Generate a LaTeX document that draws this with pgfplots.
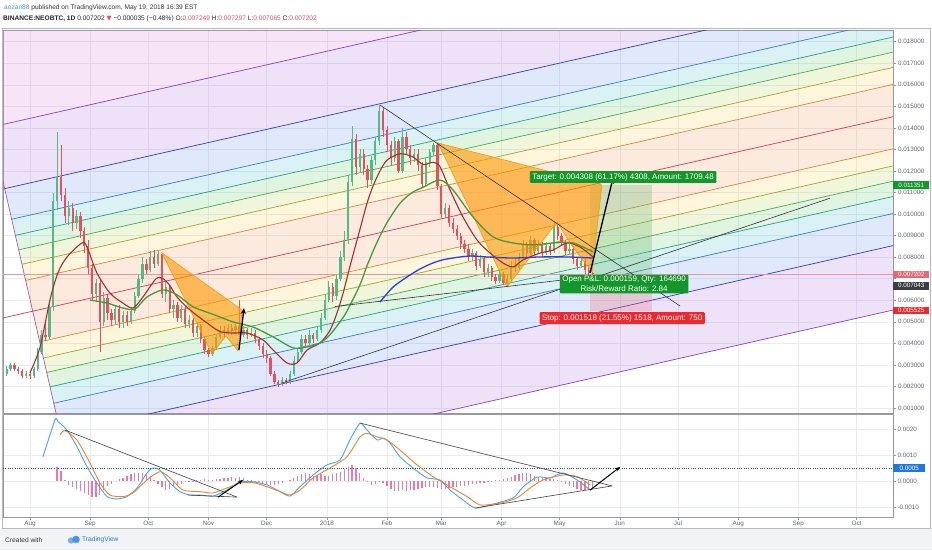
\documentclass[border=0pt]{standalone}
\usepackage{fontspec}
\setmainfont{Liberation Sans}
\newfontfamily\djv{DejaVu Sans}
\usepackage{pgfplots}
\usepackage{pgfplotstable}
\pgfplotsset{compat=1.18}
\usetikzlibrary{arrows.meta}

\definecolor{bgout}{RGB}{241,243,246}
\definecolor{gridc}{RGB}{232,235,240}
\definecolor{axc}{RGB}{150,154,160}
\definecolor{lblc}{RGB}{95,100,110}
\definecolor{upc}{RGB}{83,185,135}
\definecolor{dnc}{RGB}{235,77,92}
\definecolor{mared}{RGB}{165,45,50}
\definecolor{magreen}{RGB}{70,155,60}
\definecolor{mablue}{RGB}{50,60,220}
\definecolor{pf0}{RGB}{210,60,90}
\definecolor{pf25}{RGB}{210,140,60}
\definecolor{pf38}{RGB}{165,165,45}
\definecolor{pf50}{RGB}{80,170,80}
\definecolor{pf61}{RGB}{40,160,140}
\definecolor{pf75}{RGB}{55,125,200}
\definecolor{pf100}{RGB}{55,60,180}
\definecolor{pf150}{RGB}{135,65,200}
\definecolor{pfL}{RGB}{170,90,170}
\definecolor{fTop}{RGB}{215,120,215}
\definecolor{fLav}{RGB}{170,110,225}
\definecolor{fBlue}{RGB}{100,140,235}
\definecolor{fCyan}{RGB}{70,190,200}
\definecolor{fMint}{RGB}{100,200,110}
\definecolor{fYG}{RGB}{180,210,80}
\definecolor{fYel}{RGB}{245,205,80}
\definecolor{fPeach}{RGB}{245,150,90}
\definecolor{harm}{RGB}{255,152,0}
\definecolor{tvgreen}{RGB}{19,151,42}
\definecolor{tvred}{RGB}{240,40,45}
\definecolor{tvpink}{RGB}{228,105,115}
\definecolor{tvdark}{RGB}{60,62,66}
\definecolor{tvblue}{RGB}{33,120,220}
\definecolor{macdc}{RGB}{66,165,245}
\definecolor{sigc}{RGB}{245,130,40}
\definecolor{histc}{RGB}{238,120,165}
\definecolor{lastc}{RGB}{232,150,160}
\definecolor{dotc}{RGB}{30,70,200}

\pgfplotstableread{
d o h l c
-12 2.6 2.95 2.5 2.8
-10 2.8 3.1 2.7 3.0
-2 2.5 2.7 2.4 2.6
2 2.5 2.9 2.4 2.8
4 2.8 3.8 2.7 3.6
6 3.6 4.6 3.5 4.4
10 4.3 5.9 4.2 5.7
12 5.7 11.0 5.5 10.6
14 10.6 13.8 10.2 11.7
20 9.9 10.6 9.5 10.3
24 9.6 10.2 9.3 9.9
34 6.3 7.0 5.9 6.8
38 5.0 6.4 4.8 6.1
44 5.1 5.8 4.9 5.6
48 5.0 5.5 4.7 5.3
52 5.0 5.7 4.9 5.5
54 5.5 6.4 5.4 6.2
56 6.2 7.2 6.1 7.0
58 7.0 8.0 6.8 7.7
62 7.4 8.3 7.3 8.0
66 7.7 8.3 7.6 8.15
70 6.3 6.9 5.9 6.6
74 5.6 6.0 5.2 5.8
78 5.2 5.8 5.0 5.6
82 4.9 5.3 4.7 5.1
86 4.5 5.0 4.3 4.8
94 3.5 3.9 3.4 3.8
96 3.8 4.4 3.7 4.3
98 4.3 4.8 4.2 4.6
102 4.5 4.9 4.4 4.7
106 4.6 5.0 4.5 4.8
110 4.4 4.8 4.3 4.6
114 4.4 4.7 4.3 4.5
130 2.1 2.45 2.0 2.3
134 2.2 2.7 2.1 2.6
136 2.6 3.4 2.5 3.2
138 3.2 3.8 3.1 3.6
140 3.6 4.4 3.5 4.2
144 4.0 4.6 3.9 4.4
148 4.2 4.8 4.1 4.6
150 4.6 5.4 4.5 5.2
152 5.2 6.3 5.1 6.0
154 6.0 6.9 5.9 6.6
158 6.2 7.2 6.0 7.0
160 7.0 8.3 6.9 8.0
162 8.0 9.2 7.8 8.8
164 8.8 11.8 8.6 11.5
166 11.5 14.1 11.3 13.5
170 12.2 13.0 11.9 12.8
176 11.6 12.7 11.4 12.5
178 12.5 13.6 12.3 13.4
180 13.4 15.06 13.2 14.8
188 12.6 13.6 12.4 13.4
192 12.0 14.0 11.9 13.6
198 12.6 13.0 12.4 12.8
204 11.4 12.6 11.3 12.4
206 12.4 13.0 12.2 12.9
208 12.9 13.3 12.7 13.2
214 10.0 10.5 9.8 10.3
228 8.0 8.4 7.8 8.2
232 7.6 8.1 7.5 7.9
236 7.3 7.7 7.1 7.5
242 6.9 7.4 6.8 7.2
246 6.8 7.2 6.65 7.0
248 7.0 7.8 6.9 7.6
252 7.5 8.2 7.4 8.0
254 8.0 8.8 7.9 8.6
258 8.2 9.0 8.1 8.8
262 8.3 8.8 8.2 8.6
266 8.2 8.7 8.1 8.5
270 8.3 9.6 8.2 9.4
278 8.3 8.6 8.1 8.4
284 7.6 8.0 7.5 7.8
}\upc

\pgfplotstableread{
d o h l c
-8 3.0 3.1 2.7 2.8
-6 2.8 2.9 2.6 2.7
-4 2.7 2.8 2.4 2.5
0 2.6 2.7 2.35 2.5
8 4.4 5.0 4.1 4.3
16 11.7 13.2 10.6 10.9
18 10.9 11.2 9.6 9.9
22 10.3 10.5 9.2 9.6
26 9.9 10.1 8.9 9.2
28 9.2 9.4 8.2 8.5
30 8.5 8.8 7.2 7.5
32 7.5 7.7 6.0 6.3
36 6.8 7.0 3.6 5.0
40 6.1 6.3 5.1 5.4
42 5.4 5.6 4.8 5.1
46 5.6 5.8 4.7 5.0
50 5.3 5.5 4.8 5.0
60 7.7 7.9 7.2 7.4
64 8.0 8.35 7.5 7.7
68 8.15 8.2 6.1 6.3
72 6.6 6.7 5.4 5.6
76 5.8 5.9 5.0 5.2
80 5.6 5.7 4.7 4.9
84 5.1 5.2 4.3 4.5
88 4.8 4.9 4.0 4.2
90 4.2 4.3 3.5 3.7
92 3.7 3.8 3.35 3.5
100 4.6 4.8 4.3 4.5
104 4.7 4.9 4.4 4.6
108 4.8 6.0 4.3 4.4
112 4.6 4.7 4.2 4.4
116 4.5 4.6 4.0 4.2
118 4.2 4.3 3.7 3.9
120 3.9 4.0 3.3 3.5
122 3.5 3.7 3.1 3.3
124 3.3 3.4 2.5 2.6
126 2.6 2.7 2.1 2.2
128 2.2 2.3 1.98 2.1
132 2.3 2.4 2.1 2.2
142 4.2 4.4 3.8 4.0
146 4.4 4.5 4.0 4.2
156 6.6 6.8 5.9 6.2
168 13.5 13.7 11.8 12.2
172 12.8 13.0 11.8 12.1
174 12.1 12.3 11.2 11.6
182 14.8 14.9 13.6 13.9
184 13.9 14.1 12.9 13.2
186 13.2 13.4 12.3 12.6
190 13.4 13.5 11.9 12.0
194 13.6 13.8 12.8 13.0
196 13.0 13.2 12.3 12.6
200 12.8 13.0 12.0 12.3
202 12.3 12.4 11.2 11.4
210 13.2 13.3 11.1 11.3
212 11.3 11.4 9.8 10.0
216 10.3 10.4 9.4 9.6
218 9.6 9.8 9.1 9.3
220 9.3 9.5 8.8 9.0
222 9.0 9.1 8.4 8.6
224 8.6 8.8 8.2 8.4
226 8.4 8.6 7.8 8.0
230 8.2 8.3 7.4 7.6
234 7.9 8.0 7.1 7.3
238 7.5 7.6 6.9 7.1
240 7.1 7.2 6.75 6.9
244 7.2 7.3 6.7 6.8
250 7.6 7.9 7.3 7.5
256 8.6 8.7 8.0 8.2
260 8.8 8.9 8.1 8.3
264 8.6 8.7 8.0 8.2
268 8.5 8.6 8.1 8.3
272 9.4 9.5 8.8 9.0
274 9.0 9.1 8.5 8.7
276 8.7 8.8 8.1 8.3
280 8.4 8.5 7.7 7.9
282 7.9 8.0 7.4 7.6
286 7.8 7.9 7.2 7.4
288 7.4 7.5 7.07 7.249
290 7.249 7.297 7.065 7.202
}\dnc

\pgfplotstableread{
d h
14 0.55
16 0.40
18 0.05
20 -0.15
22 -0.25
24 -0.32
26 -0.40
28 -0.45
30 -0.55
32 -0.62
34 -0.60
36 -0.55
38 -0.35
40 -0.20
42 -0.10
44 0.00
46 0.08
48 0.12
50 0.18
52 0.25
54 0.30
56 0.32
58 0.30
60 0.25
62 0.18
64 0.05
66 -0.10
68 -0.25
70 -0.35
72 -0.32
74 -0.25
76 -0.18
78 -0.10
80 -0.05
82 -0.03
84 -0.02
86 0.02
88 0.05
90 0.06
92 0.05
94 0.04
96 0.06
98 0.08
100 0.10
102 0.12
104 0.14
106 0.13
108 0.15
110 0.10
112 0.05
114 0.02
116 -0.02
118 -0.05
120 -0.10
122 -0.12
124 -0.15
126 -0.15
128 -0.12
130 -0.06
132 0.00
134 0.05
136 0.10
138 0.18
140 0.25
142 0.30
144 0.25
146 0.20
148 0.22
150 0.25
152 0.20
154 0.18
156 0.25
158 0.30
160 0.35
162 0.45
164 0.55
166 0.60
168 0.50
170 0.30
172 0.10
174 -0.05
176 -0.15
178 -0.10
180 -0.05
182 -0.08
184 -0.20
186 -0.30
188 -0.38
190 -0.40
192 -0.35
194 -0.38
196 -0.35
198 -0.33
200 -0.30
202 -0.28
204 -0.25
206 -0.22
208 -0.25
210 -0.28
212 -0.30
214 -0.32
216 -0.28
218 -0.25
220 -0.22
222 -0.20
224 -0.18
226 -0.15
228 -0.12
230 -0.10
232 -0.08
234 -0.06
236 -0.04
238 -0.02
240 0.02
242 0.05
244 0.08
246 0.10
248 0.15
250 0.22
252 0.28
254 0.32
256 0.30
258 0.25
260 0.20
262 0.15
264 0.12
266 0.10
268 0.06
270 0.08
272 0.05
274 -0.02
276 -0.10
278 -0.18
280 -0.25
282 -0.30
284 -0.33
286 -0.35
288 -0.32
290 -0.28
}\histo

\pgfplotsset{clip bounding box=upper bound}

\begin{document}
\begin{tikzpicture}[x=1pt,y=1pt]
\fill[white] (0,0) rectangle (932,550);
\fill[bgout] (0,0) rectangle (932,22);
\draw[axc!70, line width=0.6pt] (2,22) rectangle (930,522);

% header
\node[anchor=west, inner sep=0pt, font=\fontsize{6.6}{8}\selectfont, text=black!80] at (4,542)
  {{\color{tvblue!80}aozan88} published on TradingView.com, May 19, 2018 16:39 EST};
\node[anchor=west, inner sep=0pt, font=\fontsize{6.6}{8}\selectfont, text=black!85] at (3,531)
  {\textbf{BINANCE:NEOBTC, 1D} 0.007202 {\djv\color{dnc}▼} −0.000035 (−0.48\%) O:{\color{dnc}0.007249} H:{\color{dnc}0.007297} L:{\color{dnc}0.007065} C:{\color{dnc}0.007202}};
% footer
\node[anchor=west, inner sep=0pt, font=\fontsize{6.6}{8}\selectfont, text=black!80] at (5,10) {Created with};
\fill[tvblue!60] (71,9.5) circle (3.2);
\fill[tvblue!80] (76,10.5) circle (3.8);
\fill[tvblue!60] (70,7) rectangle (79,8.5);
\node[anchor=west, inner sep=0pt, font=\fontsize{6.6}{8}\selectfont, text=tvblue] at (82,10) {TradingView};

% ===== main panel =====
\begin{axis}[
  at={(3pt,137pt)}, anchor=south west,
  width=890pt, height=383pt, scale only axis,
  xmin=-13.9, xmax=444.8, ymin=0.768, ymax=18.543,
  axis line style={draw=axc, line width=0.6pt},
  xtick={0,31,61,92,122,153,184,212,243,273,304,334,365,396,426},
  xticklabels={}, xtick style={draw=none},
  ytick={1,2,3,4,5,6,7,8,9,10,11,12,13,14,15,16,17,18},
  yticklabels={0.001000,0.002000,0.003000,0.004000,0.005000,0.006000,,0.008000,0.009000,0.010000,0.011000,0.012000,0.013000,0.014000,0.015000,0.016000,0.017000,0.018000},
  ytick pos=right, yticklabel pos=right,
  tick align=outside, major tick length=3pt,
  ytick style={draw=axc, line width=0.5pt},
  yticklabel style={font=\fontsize{6.3}{7}\selectfont, text=lblc, xshift=-1.5pt},
  grid=major, grid style={draw=gridc, line width=0.5pt},
  clip=true,
]
% pitchfork fills
\addplot[fill=fTop, fill opacity=0.2, draw=none] coordinates {(-20.3,14.03) (445,23.50) (445,30) (-60.9,30)} -- cycle;
\addplot[fill=fLav, fill opacity=0.2, draw=none] coordinates {(-20.3,14.03) (445,23.50) (445,20.51) (-13.06,11.18)} -- cycle;
\addplot[fill=fBlue, fill opacity=0.2, draw=none] coordinates {(-13.06,11.18) (445,20.51) (445,19.01) (-9.45,9.76)} -- cycle;
\addplot[fill=fCyan, fill opacity=0.2, draw=none] coordinates {(-9.45,9.76) (445,19.01) (445,18.22) (-7.54,9.01)} -- cycle;
\addplot[fill=fMint, fill opacity=0.2, draw=none] coordinates {(-7.54,9.01) (445,18.22) (445,17.52) (-5.83,8.34)} -- cycle;
\addplot[fill=fYG, fill opacity=0.2, draw=none] coordinates {(-5.83,8.34) (445,17.52) (445,16.81) (-4.13,7.67)} -- cycle;
\addplot[fill=fYel, fill opacity=0.2, draw=none] coordinates {(-4.13,7.67) (445,16.81) (445,16.02) (-2.22,6.92)} -- cycle;
\addplot[fill=fPeach, fill opacity=0.2, draw=none] coordinates {(-2.22,6.92) (445,16.02) (445,14.52) (1.40,5.49)} -- cycle;
\addplot[fill=fPeach, fill opacity=0.2, draw=none] coordinates {(1.40,5.49) (445,14.52) (445,13.03) (5.02,4.07)} -- cycle;
\addplot[fill=fYel, fill opacity=0.2, draw=none] coordinates {(5.02,4.07) (445,13.03) (445,12.24) (6.92,3.32)} -- cycle;
\addplot[fill=fYG, fill opacity=0.2, draw=none] coordinates {(6.92,3.32) (445,12.24) (445,11.53) (8.63,2.65)} -- cycle;
\addplot[fill=fMint, fill opacity=0.2, draw=none] coordinates {(8.63,2.65) (445,11.53) (445,10.82) (10.34,1.98)} -- cycle;
\addplot[fill=fCyan, fill opacity=0.2, draw=none] coordinates {(10.34,1.98) (445,10.82) (445,10.03) (12.25,1.22)} -- cycle;
\addplot[fill=fBlue, fill opacity=0.2, draw=none] coordinates {(12.25,1.22) (445,10.03) (445,8.54) (15.86,-0.20)} -- cycle;
\addplot[fill=fLav, fill opacity=0.2, draw=none] coordinates {(15.86,-0.20) (445,8.54) (445,5.55) (23.09,-3.05)} -- cycle;
% pitchfork lines
\addplot[draw=pfL, line width=0.7pt] coordinates {(-35,19.82) (16,-0.25)};
\addplot[draw=pf150, line width=0.7pt] coordinates {(-20.3,14.03) (445,23.50)};
\addplot[draw=pf100, line width=0.7pt] coordinates {(-13.06,11.18) (445,20.51)};
\addplot[draw=pf75, line width=0.7pt] coordinates {(-9.45,9.76) (445,19.01)};
\addplot[draw=pf61, line width=0.7pt] coordinates {(-7.54,9.01) (445,18.22)};
\addplot[draw=pf50, line width=0.7pt] coordinates {(-5.83,8.34) (445,17.52)};
\addplot[draw=pf38, line width=0.7pt] coordinates {(-4.13,7.67) (445,16.81)};
\addplot[draw=pf25, line width=0.7pt] coordinates {(-2.22,6.92) (445,16.02)};
\addplot[draw=pf0, line width=0.7pt] coordinates {(-13.9,5.18) (445,14.52)};
\addplot[draw=pf25, line width=0.7pt] coordinates {(5.02,4.07) (445,13.03)};
\addplot[draw=pf38, line width=0.7pt] coordinates {(6.92,3.32) (445,12.24)};
\addplot[draw=pf50, line width=0.7pt] coordinates {(8.63,2.65) (445,11.53)};
\addplot[draw=pf61, line width=0.7pt] coordinates {(10.34,1.98) (445,10.82)};
\addplot[draw=pf75, line width=0.7pt] coordinates {(12.25,1.22) (445,10.03)};
\addplot[draw=pf100, line width=0.7pt] coordinates {(15.86,-0.20) (445,8.54)};
\addplot[draw=pf150, line width=0.7pt] coordinates {(23.09,-3.05) (445,5.55)};
% last price line
\addplot[draw=lastc, line width=0.6pt] coordinates {(-13.9,7.202) (444.8,7.202)};
% position tool boxes
\addplot[fill=tvgreen!70, fill opacity=0.28, draw=none] coordinates {(288.7,7.043) (320.6,7.043) (320.6,11.351) (288.7,11.351)} -- cycle;
\addplot[fill=dnc!80, fill opacity=0.28, draw=none] coordinates {(288.7,5.525) (320.6,5.525) (320.6,7.043) (288.7,7.043)} -- cycle;
% candles
\addplot[draw=upc, line width=0.6pt, quiver={u=0, v=\thisrow{h}-\thisrow{l}}] table[x=d, y=l] {\upc};
\addplot[draw=upc, line width=2.3pt, quiver={u=0, v=\thisrow{c}-\thisrow{o}}] table[x=d, y=o] {\upc};
\addplot[draw=dnc, line width=0.6pt, quiver={u=0, v=\thisrow{h}-\thisrow{l}}] table[x=d, y=l] {\dnc};
\addplot[draw=dnc, line width=2.3pt, quiver={u=0, v=\thisrow{c}-\thisrow{o}}] table[x=d, y=o] {\dnc};
% harmonic patterns
\addplot[fill=harm, fill opacity=0.6, draw=harm, line width=0.6pt] coordinates {(68.0,8.20) (109.3,5.55) (107.2,3.65) (101.0,4.34) (93.8,3.51)} -- cycle;
\addplot[fill=harm, fill opacity=0.6, draw=harm, line width=0.6pt] coordinates {(210.3,13.30) (294.8,11.35) (289.7,7.31) (279.4,8.52) (271.6,9.63) (245.9,6.62)} -- cycle;
% moving averages
\addplot[draw=mared, line width=1.1pt, smooth, tension=0.5] coordinates {(0,2.63) (5.2,3.83) (10.3,6.01) (14.4,7.27) (19.1,8.01) (26.8,8.66) (29.4,8.47) (34.5,7.27) (41.2,6.34) (47.9,5.87) (53.1,5.64) (58.2,6.15) (65,7.0) (68.6,7.0) (72,6.7) (75.8,6.15) (82.5,5.55) (91.2,4.95) (97.9,4.55) (104.6,4.48) (111.9,4.48) (120.1,4.16) (125.3,3.69) (132.5,3.09) (137.6,3.09) (142.8,3.69) (149.5,4.02) (154.6,4.6) (158.2,5.4) (161.3,6.3) (165,7.6) (170.1,9.3) (173.7,10.5) (176.8,11.3) (180.4,12.0) (184.0,12.5) (190.7,12.8) (197.4,12.65) (202.6,12.3) (207.7,12.4) (211.3,12.2) (216.5,11.12) (223.2,9.86) (230.4,8.80) (237.1,8.19) (243.8,7.73) (249.0,7.55) (254.1,7.87) (262.9,8.19) (269.6,8.33) (276.8,8.66) (283.5,8.47) (290.2,8.01)};
\addplot[draw=magreen, line width=1.3pt, smooth, tension=0.5] coordinates {(30.9,6.01) (39.7,5.87) (47.9,5.64) (54.1,5.59) (60.3,6.15) (68.6,6.48) (75.8,6.25) (84,5.7) (94.3,5.35) (104.6,5.0) (114.9,4.76) (125.3,4.30) (135.6,3.79) (142.8,3.83) (149.5,4.02) (154.6,4.4) (159.8,5.0) (163.4,5.5) (170,6.7) (173.7,7.6) (178.9,8.7) (184,9.6) (190.7,10.5) (197,11.0) (203,11.26) (211.3,11.58) (218.0,11.12) (228.4,9.86) (238.7,8.94) (249.0,8.66) (259.3,8.57) (269.6,8.66) (279.9,8.66) (290.2,8.24)};
\addplot[draw=mablue, line width=1.3pt, smooth, tension=0.5] coordinates {(180.4,5.92) (187,6.6) (194.3,7.08) (201,7.45) (207.7,7.73) (214,7.9) (226,8.05) (235.6,8.01) (249.0,7.96) (262.9,8.01) (276.8,8.01) (290.2,7.96)};
% trend lines
\addplot[draw=black!80, line width=0.6pt] coordinates {(180.4,15.06) (335.1,5.73)};
\addplot[draw=black!80, line width=0.6pt] coordinates {(129.9,2.16) (412.4,10.74)};
\addplot[draw=black!80, line width=0.6pt] coordinates {(157.2,5.71) (288.7,7.09)};
% arrows
\addplot[draw=black, line width=1.3pt, -{Stealth[length=6pt,width=5pt]}] coordinates {(107.7,3.69) (110.3,5.64)};
\addplot[draw=black, line width=1.3pt, -{Stealth[length=6pt,width=5pt]}] coordinates {(288.7,7.27) (300.5,11.68)};
% position labels
\node[fill=tvgreen, text=white, font=\fontsize{8}{9.5}\selectfont, inner xsep=2.5pt, inner ysep=2.2pt, rounded corners=1pt] at (axis cs:305.7,11.72) {Target: 0.004308 (61.17\%) 4308, Amount: 1709.48};
\node[fill=tvgreen, text=white, align=center, font=\fontsize{8}{10}\selectfont, inner xsep=2.5pt, inner ysep=1.5pt, rounded corners=1pt] at (axis cs:306.2,6.75) {Open P\&L: 0.000159, Qty: 164690\\Risk/Reward Ratio: 2.84};
\node[fill=tvred, text=white, font=\fontsize{8}{9.5}\selectfont, inner xsep=2.5pt, inner ysep=2.2pt, rounded corners=1pt] at (axis cs:305.2,5.17) {Stop: 0.001518 (21.55\%) 1518, Amount: 750};
\coordinate (ptarget) at (axis cs:444.8,11.351);
\coordinate (plast) at (axis cs:444.8,7.202);
\coordinate (pentry) at (axis cs:444.8,7.043);
\coordinate (pstop) at (axis cs:444.8,5.525);
\end{axis}

\node[anchor=west, fill=tvgreen, text=white, font=\fontsize{6.3}{7}\selectfont, inner xsep=1.5pt, inner ysep=1.6pt, minimum width=36pt] at (ptarget) {0.011351};
\node[anchor=west, fill=tvpink, text=white, font=\fontsize{6.3}{7}\selectfont, inner xsep=1.5pt, inner ysep=1.6pt, minimum width=36pt] at (plast) {0.007202};
\node[anchor=west, fill=tvdark, text=white, font=\fontsize{6.3}{7}\selectfont, inner xsep=1.5pt, inner ysep=1.6pt, minimum width=36pt] at ([yshift=-8pt]pentry) {0.007043};
\node[anchor=west, fill=tvred, text=white, font=\fontsize{6.3}{7}\selectfont, inner xsep=1.5pt, inner ysep=1.6pt, minimum width=36pt] at (pstop) {0.005525};

% ===== MACD panel =====
\begin{axis}[
  at={(3pt,33pt)}, anchor=south west,
  width=890pt, height=103pt, scale only axis,
  xmin=-13.9, xmax=444.8, ymin=-1.385, ymax=2.577,
  axis line style={draw=axc, line width=0.6pt},
  xtick={0,31,61,92,122,153,184,212,243,273,304,334,365,396,426},
  xticklabels={Aug,Sep,Oct,Nov,Dec,2018,Feb,Mar,Apr,May,Jun,Jul,Aug,Sep,Oct},
  xtick pos=bottom, ytick pos=right, yticklabel pos=right,
  ytick={-1,0,1,2}, yticklabels={-0.0010,0.0000,0.0010,0.0020},
  tick align=outside, major tick length=2.5pt,
  tick style={draw=axc, line width=0.5pt},
  yticklabel style={font=\fontsize{6.3}{7}\selectfont, text=lblc, xshift=-1.5pt},
  xticklabel style={font=\fontsize{6.3}{7}\selectfont, text=lblc, yshift=2pt},
  grid=major, grid style={draw=gridc, line width=0.5pt},
  clip=true,
]
\addplot[draw=dotc, line width=1pt, dash pattern=on 1pt off 1.3pt] coordinates {(-13.9,0.5) (444.8,0.5)};
\addplot[ycomb, draw=histc, line width=1.3pt] table[x=d, y=h] {\histo};
\addplot[draw=macdc, line width=0.9pt, smooth, tension=0.4] coordinates {(6.7,0.93) (12.9,2.35) (14.4,2.29) (19.1,1.96) (24.2,1.32) (29.4,0.55) (34.5,-0.08) (39.7,-0.60) (44.8,-0.69) (50.0,-0.60) (55.2,-0.27) (60.3,0.31) (63.4,0.50) (67.0,0.42) (72.2,-0.08) (77.3,-0.41) (82.5,-0.54) (87.6,-0.54) (94.3,-0.58) (101.5,-0.35) (108.2,-0.03) (114.9,-0.03) (122.2,-0.15) (128.9,-0.41) (134.0,-0.58) (139.2,-0.22) (145.9,0.23) (153.1,0.62) (159.8,0.81) (164.9,1.58) (170.1,2.22) (173.7,1.96) (178.9,1.58) (182.0,1.65) (185.6,1.46) (190.7,0.93) (197.4,0.50) (204.6,0.12) (211.3,0.04) (216.5,-0.35) (223.2,-0.73) (229.4,-1.04) (237.1,-0.92) (249.0,-0.65) (254.1,-0.23) (261.3,0.15) (268.0,0.12) (274.7,0.31) (282.0,0.04) (288.7,-0.35)};
\addplot[draw=sigc, line width=0.9pt, smooth, tension=0.4] coordinates {(15.5,1.77) (18.0,1.94) (24.2,1.58) (30.9,0.69) (36.1,-0.08) (41.2,-0.54) (47.9,-0.60) (53.1,-0.46) (60.3,0.04) (67.0,0.36) (72.2,0.12) (78.9,-0.35) (87.6,-0.41) (94.3,-0.46) (101.5,-0.27) (108.2,-0.08) (114.9,-0.06) (122.2,-0.22) (128.9,-0.41) (134.0,-0.54) (139.2,-0.35) (145.9,0.12) (154.6,0.50) (163.4,0.93) (170.1,1.70) (173.7,1.83) (178.9,1.70) (184.0,1.58) (190.7,1.19) (199.5,0.62) (207.7,0.17) (216.5,-0.22) (225.3,-0.60) (232.0,-0.92) (242.3,-0.85) (251.0,-0.65) (257.7,-0.27) (264.4,0.04) (274.7,0.23) (282.0,0.17) (288.7,-0.15)};
\addplot[draw=black!75, line width=0.6pt] coordinates {(18.0,1.96) (106.7,-0.62)};
\addplot[draw=black!75, line width=0.6pt] coordinates {(81.4,-0.54) (106.7,-0.62)};
\addplot[draw=black!75, line width=0.6pt] coordinates {(170.1,2.23) (300.0,-0.19)};
\addplot[draw=black!75, line width=0.6pt] coordinates {(229.4,-1.04) (300.0,-0.19)};
\addplot[draw=black, line width=1pt, -{Stealth[length=5pt,width=4pt]}] coordinates {(96.9,-0.62) (109.8,0.04)};
\addplot[draw=black, line width=1pt, -{Stealth[length=5pt,width=4pt]}] coordinates {(288.7,-0.35) (304.1,0.54)};
\coordinate (pmacd) at (axis cs:444.8,0.5);
\end{axis}
\node[anchor=west, fill=tvblue, text=white, font=\fontsize{6.3}{7}\selectfont, inner xsep=1.5pt, inner ysep=1.6pt, minimum width=32pt] at (pmacd) {0.0005};
\end{tikzpicture}
\end{document}
